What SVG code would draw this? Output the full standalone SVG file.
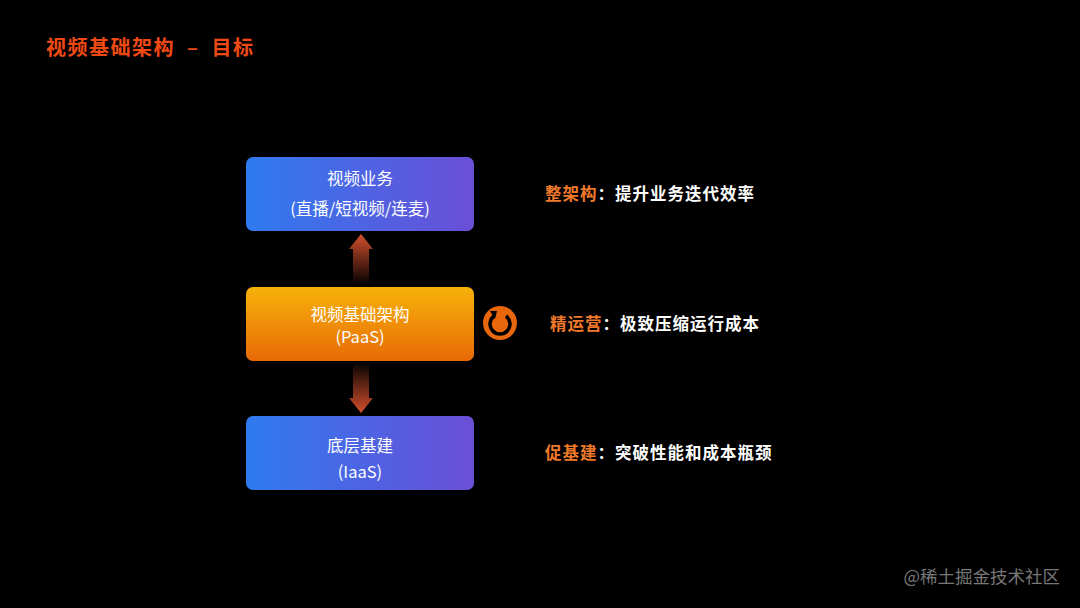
<svg xmlns="http://www.w3.org/2000/svg" width="1080" height="608" viewBox="0 0 1080 608">
<defs>
<linearGradient id="blue" x1="0" y1="0" x2="1" y2="0"><stop offset="0" stop-color="#2f7af0"/><stop offset="1" stop-color="#6a4fd6"/></linearGradient>
<linearGradient id="orange" x1="0" y1="0" x2="0" y2="1"><stop offset="0" stop-color="#f6b20a"/><stop offset="1" stop-color="#e86a06"/></linearGradient>
<linearGradient id="aup" x1="0" y1="0" x2="0" y2="1"><stop offset="0" stop-color="#d4502e"/><stop offset="1" stop-color="#d4502e" stop-opacity="0.05"/></linearGradient>
<linearGradient id="adn" x1="0" y1="1" x2="0" y2="0"><stop offset="0" stop-color="#d4502e"/><stop offset="1" stop-color="#d4502e" stop-opacity="0.05"/></linearGradient>
<style>
.t{font-family:"Noto Sans CJK SC","Liberation Sans",sans-serif;fill:#fff;font-size:16.5px;text-anchor:middle}
.r{font-family:"Noto Sans CJK SC",sans-serif;font-size:16.5px;font-weight:bold;fill:#fff;letter-spacing:1px}
.o{fill:#f07a2a}
</style>
</defs>
<rect width="1080" height="608" fill="#000"/>
<text x="46" y="55" font-family="Noto Sans CJK SC,sans-serif" font-size="20" font-weight="bold" fill="#f04a14" letter-spacing="1.5" xml:space="preserve">视频基础架构  –  目标</text>
<g id="connectors">
<path d="M353 283V249H349L361 234L373 249H369V283Z" fill="url(#aup)"/>
<path d="M353 364V398H349L361 413L373 398H369V364Z" fill="url(#adn)"/>
</g>
<g id="n1"><rect x="246" y="157" width="228" height="74" rx="7" fill="url(#blue)"/>
<text class="t" x="360" y="185">视频业务</text><text class="t" x="360" y="215">(直播/短视频/连麦)</text></g>
<g id="n2"><rect x="246" y="287" width="228" height="74" rx="7" fill="url(#orange)"/>
<text class="t" x="360" y="321">视频基础架构</text><text class="t" x="360" y="343">(PaaS)</text></g>
<g id="n3"><rect x="246" y="416" width="228" height="74" rx="7" fill="url(#blue)"/>
<text class="t" x="360" y="452">底层基建</text><text class="t" x="360" y="478">(IaaS)</text></g>
<g id="icon"><circle cx="500" cy="323" r="17" fill="#e8660c"/>
<path d="M506 316A10 10 0 1 1 494 316" fill="none" stroke="#000" stroke-width="3.5"/>
<path d="M490 311L497 311L495 319Z" fill="#000"/></g>
<text class="r" x="545" y="200"><tspan class="o">整架构</tspan>：提升业务迭代效率</text>
<text class="r" x="550" y="330"><tspan class="o">精运营</tspan>：极致压缩运行成本</text>
<text class="r" x="545" y="459"><tspan class="o">促基建</tspan>：突破性能和成本瓶颈</text>
<text x="1060" y="583" text-anchor="end" font-family="Noto Sans CJK SC,sans-serif" font-size="17.5" fill="#777">@稀土掘金技术社区</text>
</svg>
